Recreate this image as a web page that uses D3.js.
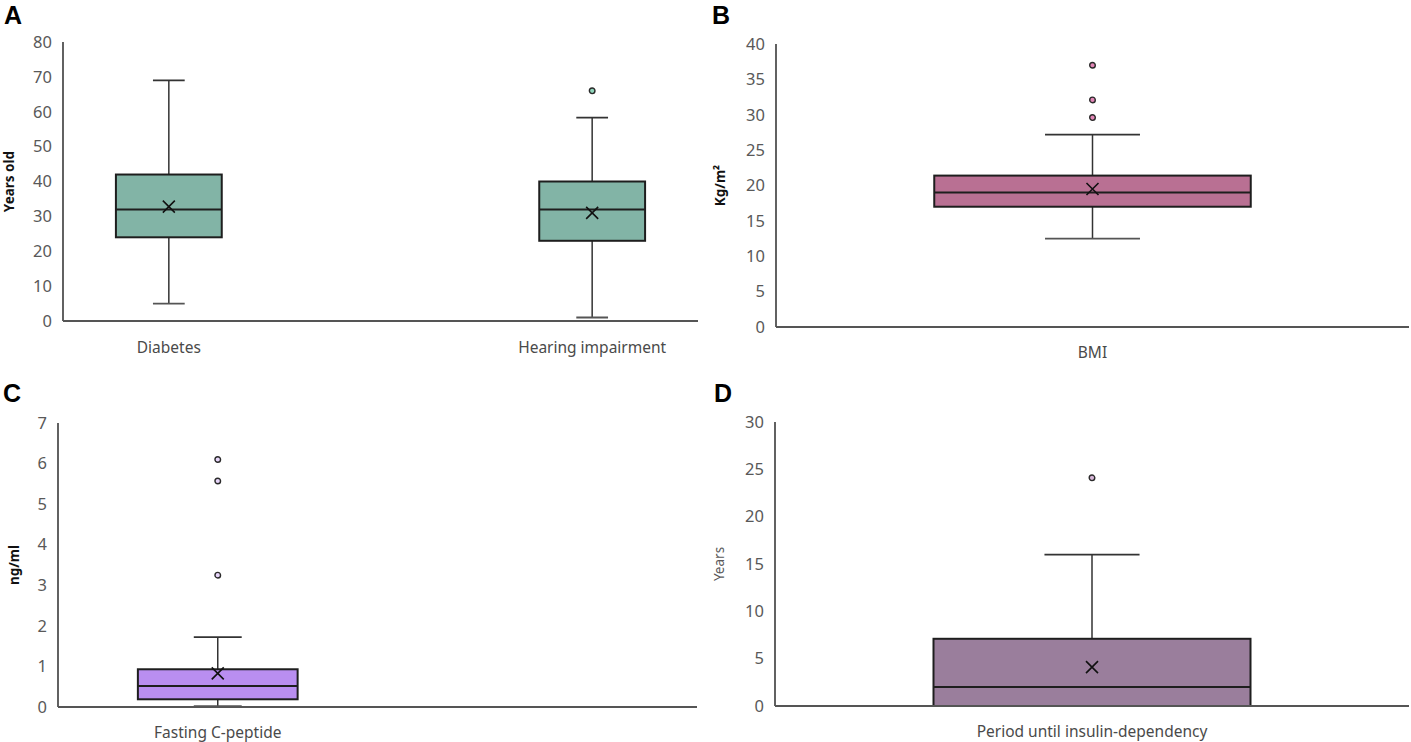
<!DOCTYPE html>
<html>
<head>
<meta charset="utf-8">
<script src="https://cdn.jsdelivr.net/npm/d3@7"></script>
<style>
  body { margin: 0; background: #fff; }
  svg { display: block; }
</style>
</head>
<body>
<script>
// box plot data
var catsA = ["Diabetes", "Hearing impairment"];
var statsA = [
  { min: 5, q1: 24, median: 32, q3: 42, max: 69, mean: 32.8, outliers: [] },
  { min: 1, q1: 23, median: 32, q3: 40, max: 58.3, mean: 31, outliers: [66] }
];

var catsB = ["BMI"];
var statsB = [
  { min: 12.5, q1: 17, median: 19, q3: 21.4, max: 27.2, mean: 19.5, outliers: [29.6, 32.1, 37] }
];

var catsC = ["Fasting C-peptide", ""];
var statsC = [
  { min: 0.02, q1: 0.19, median: 0.52, q3: 0.93, max: 1.72, mean: 0.83, outliers: [3.25, 5.57, 6.1] }
];

var catsD = ["Period until insulin-dependency"];
var statsD = [
  { min: 0, q1: 0, median: 2, q3: 7.1, max: 16, mean: 4.1, outliers: [24.1] }
];

var yTicksA = d3.range(0, 81, 10);
var yTicksB = d3.range(0, 41, 5);
var yTicksC = d3.range(0, 8, 1);
var yTicksD = d3.range(0, 31, 5);

var width = 1411,
    height = 742;

var svg = d3.select("body").append("svg")
    .attr("width", width)
    .attr("height", height);

var panels = [
  { id: "A", cats: catsA, stats: statsA, ticks: yTicksA, ylabel: "Years old", bold: true,
    x0: 63, x1: 698, y0: 321, y1: 42, fill: "#82b4a6", dot: "#8fd6bb",
    letter: [4, 24], labX: 14, catY: 353, point: true },
  { id: "B", cats: catsB, stats: statsB, ticks: yTicksB, ylabel: "Kg/m\u00b2", bold: true,
    x0: 776, x1: 1409, y0: 327, y1: 44, fill: "#b97093", dot: "#e286b6",
    letter: [712, 24], labX: 725, catY: 358 },
  { id: "C", cats: catsC, stats: statsC, ticks: yTicksC, ylabel: "ng/ml", bold: true,
    x0: 58, x1: 697, y0: 707, y1: 423, fill: "#b98ef0", dot: "#e8d6fb",
    letter: [3, 402], labX: 19, catY: 738 },
  { id: "D", cats: catsD, stats: statsD, ticks: yTicksD, ylabel: "Years", bold: false,
    x0: 775, x1: 1409, y0: 706, y1: 422, fill: "#9a7e9c", dot: "#d7b6d8",
    letter: [714, 402], labX: 724, catY: 737 }
];

panels.forEach(function(p) {
  var g = svg.append("g").attr("class", "panel" + p.id);

  var y = d3.scaleLinear()
      .domain([0, d3.max(p.ticks)])
      .range([p.y0, p.y1]);

  var x, boxW;
  if (p.point) {
    x = d3.scalePoint().domain(p.cats).range([p.x0, p.x1]).padding(0.25);
    boxW = x.step() * 0.25;
  } else {
    var band = d3.scaleBand().domain(p.cats).range([p.x0, p.x1]);
    x = function(d) { return band(d) + band.bandwidth() / 2; };
    boxW = band.bandwidth() * 0.5;
  }
  var capW = boxW * 0.3;

  // y tick labels
  var yAxis = g.append("g")
      .attr("transform", "translate(" + p.x0 + ",0)")
      .call(d3.axisLeft(y).tickValues(p.ticks).tickFormat(d3.format("d"))
        .tickSize(0).tickPadding(11));
  yAxis.select(".domain").remove();
  yAxis.selectAll("text")
      .attr("fill", "#595959")
      .style("font-family", "'Noto Sans', sans-serif")
      .style("font-size", "16.5px");

  // axis lines
  g.append("line")
      .attr("x1", p.x0).attr("x2", p.x0)
      .attr("y1", p.y1).attr("y2", p.y0)
      .attr("stroke", "#3a3a3a").attr("stroke-width", 1.6);

  var boxes = g.selectAll(".box")
      .data(p.stats)
      .enter().append("g")
      .attr("class", "box")
      .attr("transform", function(d, i) { return "translate(" + x(p.cats[i]) + ",0)"; });

  // whiskers
  boxes.append("line")
      .attr("y1", function(d) { return y(d.max); })
      .attr("y2", function(d) { return y(d.q3); })
      .attr("stroke", "#333").attr("stroke-width", 1.5);
  boxes.append("line")
      .attr("y1", function(d) { return y(d.q1); })
      .attr("y2", function(d) { return y(d.min); })
      .attr("stroke", "#333").attr("stroke-width", 1.5);
  boxes.append("line")
      .attr("x1", -capW / 2).attr("x2", capW / 2)
      .attr("y1", function(d) { return y(d.max); })
      .attr("y2", function(d) { return y(d.max); })
      .attr("stroke", "#333").attr("stroke-width", 1.8);
  boxes.append("line")
      .attr("x1", -capW / 2).attr("x2", capW / 2)
      .attr("y1", function(d) { return y(d.min); })
      .attr("y2", function(d) { return y(d.min); })
      .attr("stroke", "#555").attr("stroke-width", 1.8);

  // box
  boxes.append("rect")
      .attr("x", -boxW / 2)
      .attr("width", boxW)
      .attr("y", function(d) { return y(d.q3); })
      .attr("height", function(d) { return y(d.q1) - y(d.q3); })
      .attr("fill", p.fill)
      .attr("stroke", "#1e1e1e").attr("stroke-width", 2);

  // median
  boxes.append("line")
      .attr("x1", -boxW / 2).attr("x2", boxW / 2)
      .attr("y1", function(d) { return y(d.median); })
      .attr("y2", function(d) { return y(d.median); })
      .attr("stroke", "#1e1e1e").attr("stroke-width", 2);

  // mean marker
  var m = 6;
  boxes.append("path")
      .attr("d", function(d) {
        var cy = y(d.mean);
        return "M" + (-m) + "," + (cy - m) + "L" + m + "," + (cy + m) +
               "M" + m + "," + (cy - m) + "L" + (-m) + "," + (cy + m);
      })
      .attr("stroke", "#111").attr("stroke-width", 1.6).attr("fill", "none");

  // outliers
  boxes.selectAll(".out")
      .data(function(d) { return d.outliers; })
      .enter().append("circle")
      .attr("class", "out")
      .attr("cx", 0)
      .attr("cy", function(v) { return y(v); })
      .attr("r", 2.8)
      .attr("fill", p.dot)
      .attr("stroke", "#2a2a2a").attr("stroke-width", 1.4);

  // x axis line (drawn last so it sits on top)
  g.append("line")
      .attr("x1", p.x0).attr("x2", p.x1)
      .attr("y1", p.y0).attr("y2", p.y0)
      .attr("stroke", "#555").attr("stroke-width", 2);

  // category labels
  g.selectAll(".cat")
      .data(p.cats.filter(function(c) { return c !== ""; }))
      .enter().append("text")
      .attr("class", "cat")
      .attr("x", function(c) { return x(c); })
      .attr("y", p.catY)
      .attr("text-anchor", "middle")
      .attr("fill", "#4a4a4a")
      .style("font-family", "'Noto Sans', sans-serif")
      .style("font-size", "15.5px")
      .text(function(c) { return c; });

  // y axis title
  g.append("text")
      .attr("transform", "translate(" + p.labX + "," + ((p.y0 + p.y1) / 2) + ") rotate(-90)")
      .attr("text-anchor", "middle")
      .attr("fill", p.bold ? "#111" : "#595959")
      .style("font-family", "'Noto Sans', sans-serif")
      .style("font-size", "13.5px")
      .style("font-weight", p.bold ? "bold" : "normal")
      .text(p.ylabel);

  // panel letter
  g.append("text")
      .attr("x", p.letter[0]).attr("y", p.letter[1])
      .attr("fill", "#000")
      .style("font-family", "'Liberation Sans', Arial, sans-serif")
      .style("font-size", "25px")
      .style("font-weight", "bold")
      .text(p.id);
});
</script>
</body>
</html>
